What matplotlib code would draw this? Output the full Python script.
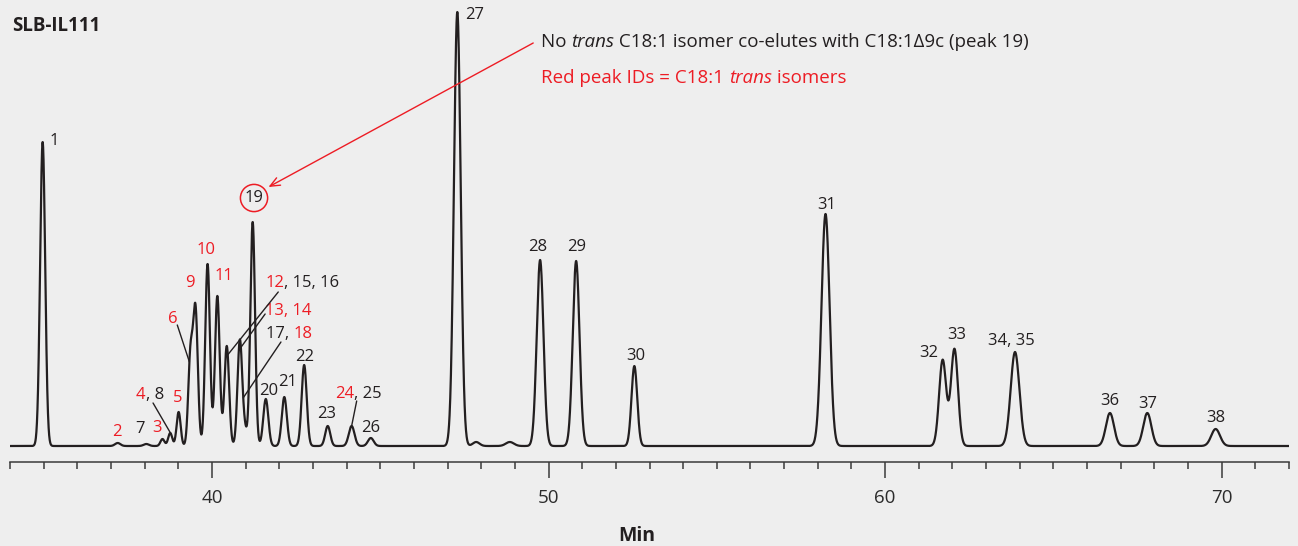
import numpy as np
import matplotlib
matplotlib.use("Agg")
import matplotlib.pyplot as plt

plt.rcParams['font.family'] = ['Open Sans', 'DejaVu Sans']

RED = '#ed1c24'
INK = '#231f20'
BG = '#eeeeee'

# peak retention times (min), heights and widths (sigma, min)
peak_rt = [34.97, 37.20, 38.05, 38.53, 38.76, 39.01, 39.36, 39.51, 39.87, 40.16,
           40.44, 40.83, 40.98, 41.21, 41.60, 42.15, 42.74, 43.44, 44.15, 44.72,
           47.29, 47.85, 48.85, 49.75, 50.82, 52.55, 58.23, 61.71, 62.06, 63.86,
           66.68, 67.79, 69.82]
peak_h = [304, 3, 2, 7, 13, 34, 88, 136, 182, 150,
          100, 106, 14, 224, 47, 49, 81, 20, 20, 8,
          434, 4, 4, 186, 185, 80, 232, 86, 97, 94,
          33, 33, 17]
peak_w = [0.075, 0.08, 0.08, 0.06, 0.06, 0.06, 0.065, 0.07, 0.07, 0.07,
          0.07, 0.07, 0.06, 0.07, 0.075, 0.075, 0.075, 0.075, 0.085, 0.085,
          0.1, 0.1, 0.12, 0.1, 0.1, 0.085, 0.12, 0.105, 0.105, 0.13,
          0.12, 0.12, 0.13]

# peak IDs: (text pieces with colours, x, y, alignment)
labels = [
    ([("1", INK)], 35.30, 305, 'center'),
    ([("2", RED)], 37.17, 14, 'center'),
    ([("7", INK)], 37.86, 17, 'center'),
    ([("3", RED)], 38.36, 18, 'center'),
    ([("5", RED)], 38.99, 48, 'center'),
    ([("6", RED)], 38.84, 127, 'center'),
    ([("9", RED)], 39.35, 163, 'center'),
    ([("10", RED)], 39.82, 196, 'center'),
    ([("11", RED)], 40.36, 170, 'center'),
    ([("20", INK)], 41.70, 55, 'center'),
    ([("21", INK)], 42.26, 64, 'center'),
    ([("22", INK)], 42.74, 89, 'center'),
    ([("23", INK)], 43.42, 32, 'center'),
    ([("26", INK)], 44.73, 18, 'center'),
    ([("27", INK)], 47.79, 431, 'center'),
    ([("28", INK)], 49.69, 199, 'center'),
    ([("29", INK)], 50.82, 199, 'center'),
    ([("30", INK)], 52.58, 90, 'center'),
    ([("31", INK)], 58.26, 241, 'center'),
    ([("32", INK)], 61.29, 93, 'center'),
    ([("33", INK)], 62.12, 111, 'center'),
    ([("34, 35", INK)], 63.76, 105, 'center'),
    ([("36", INK)], 66.68, 45, 'center'),
    ([("37", INK)], 67.80, 42, 'center'),
    ([("38", INK)], 69.82, 28, 'center'),
    ([("4", RED), (", 8", INK)], 37.74, 51, 'left'),
    ([("12", RED), (", 15, 16", INK)], 41.58, 163, 'left'),
    ([("13, 14", RED)], 41.58, 135, 'left'),
    ([("17, ", INK), ("18", RED)], 41.61, 112, 'left'),
    ([("24", RED), (", 25", INK)], 43.66, 52, 'left'),
]

# leader lines: (retention time on trace, start point near the label)
leaders = [
    (38.78, (38.25, 43)),
    (39.33, (38.97, 121)),
    (40.47, (41.97, 154)),
    (40.86, (41.58, 132)),
    (40.93, (42.05, 104)),
    (44.15, (44.30, 45)),
]

t = np.arange(34.0, 72.0, 0.004)
signal = np.zeros_like(t)
for rt, h, w in zip(peak_rt, peak_h, peak_w):
    signal += h * np.exp(-0.5 * ((t - rt) / w) ** 2)

fig = plt.figure(figsize=(12.98, 5.46), dpi=100, facecolor=BG)
ax = fig.add_axes([10 / 1298, 84 / 546, 1279 / 1298, 462 / 546])
ax.set_facecolor(BG)
ax.plot(t, signal, color=INK, lw=1.6, solid_joinstyle='round')
ax.set_xlim(34, 72)
ax.set_ylim(-16, 446)

for s in ['left', 'top', 'right']:
    ax.spines[s].set_visible(False)
ax.spines['bottom'].set_color('#3a3a3a')
ax.spines['bottom'].set_linewidth(1.1)
ax.set_yticks([])
ax.set_xticks([40, 50, 60, 70])
ax.set_xticks(np.arange(34, 73, 1), minor=True)
ax.tick_params(axis='x', which='major', length=11.5, width=1.1, color='#3a3a3a',
               labelsize=13.5, labelcolor='#2b2b2b', pad=8)
ax.tick_params(axis='x', which='minor', length=5, width=1.1, color='#3a3a3a')

for pieces, x, y, ha in labels:
    txt, col = pieces[0]
    prev = ax.text(x, y, txt, color=col, fontsize=12, ha=ha, va='center')
    for txt, col in pieces[1:]:
        prev = ax.annotate(txt, xy=(1, 0), xycoords=prev, color=col,
                           fontsize=12, ha='left', va='bottom')

for rt, start in leaders:
    yv = np.interp(rt, t, signal)
    ax.annotate('', xy=(rt, yv), xytext=start,
                arrowprops=dict(arrowstyle='-', color=INK, lw=1.0,
                                shrinkA=0, shrinkB=0))

# peak 19 circled
ax.text(41.25, 248, "19", color=INK, fontsize=12, ha='center', va='center',
        bbox=dict(boxstyle='circle,pad=0.25', ec=RED, fc='none', lw=1.1))

# note lines
note1 = [("No ", INK, 'normal'), ("trans", INK, 'italic'),
         (" C18:1 isomer co-elutes with C18:1\u0394" + "9c (peak 19)", INK, 'normal')]
note2 = [("Red peak IDs = C18:1 ", RED, 'normal'), ("trans", RED, 'italic'),
         (" isomers", RED, 'normal')]
for pieces, y in [(note1, 404), (note2, 368)]:
    txt, col, st = pieces[0]
    prev = ax.text(49.78, y, txt, color=col, style=st, fontsize=13.5,
                   ha='left', va='center')
    for txt, col, st in pieces[1:]:
        prev = ax.annotate(txt, xy=(1, 0), xycoords=prev, color=col, style=st,
                           fontsize=13.5, ha='left', va='bottom')

ax.annotate('', xy=(41.68, 259), xytext=(49.545, 403),
            arrowprops=dict(arrowstyle='->,head_length=0.7,head_width=0.3',
                            color=RED, lw=1.0, shrinkA=0, shrinkB=0))

fig.text(12 / 1298, 1 - 26 / 546, "SLB-IL111", fontsize=13.5, fontweight='bold',
         color='#231f20', ha='left', va='center')
fig.text(637 / 1298, 1 - 536 / 546, "Min", fontsize=14, fontweight='bold',
         color='#231f20', ha='center', va='center')

fig.savefig('out.png', dpi=100, facecolor=BG)
